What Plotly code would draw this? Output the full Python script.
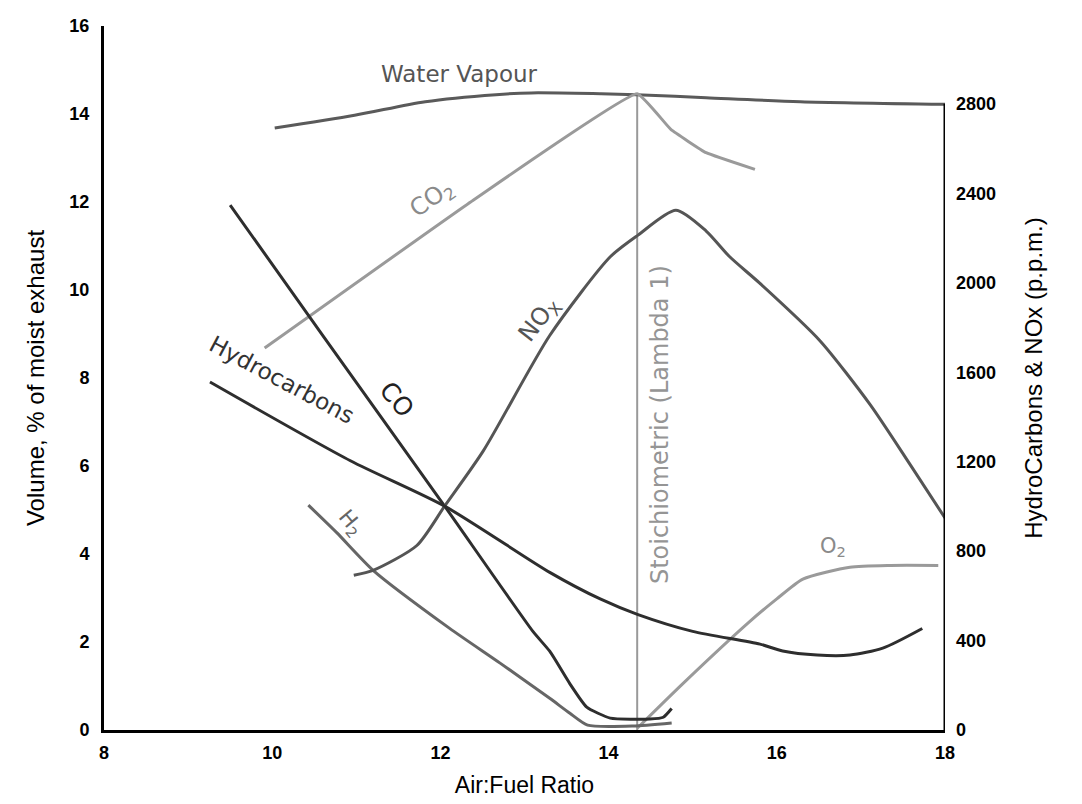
import plotly.graph_objects as go

# ---- data (x = air:fuel ratio) ----
wv_x = [10.03, 10.98, 11.82, 12.66, 13.08, 13.91, 14.33, 15.16, 16.28, 18.0]
wv_y = [13.68, 13.97, 14.28, 14.44, 14.48, 14.46, 14.44, 14.37, 14.28, 14.22]

co2_x = [9.91, 12.39, 14.34, 14.74, 15.16, 15.74]
co2_y = [8.68, 12.04, 14.46, 13.65, 13.12, 12.74]

co_x = [9.50, 10.60, 12.05, 13.10, 13.30, 13.54, 13.74, 14.02, 14.49, 14.65, 14.75]
co_y = [11.93, 8.97, 5.09, 2.24, 1.79, 1.05, 0.52, 0.27, 0.25, 0.29, 0.49]

h2_x = [10.43, 10.77, 11.20, 12.11, 12.71, 13.30, 13.54, 13.75, 14.29, 14.75]
h2_y = [5.11, 4.48, 3.63, 2.31, 1.52, 0.72, 0.38, 0.11, 0.09, 0.16]

o2_x = [14.34, 14.88, 15.68, 16.00, 16.31, 16.87, 17.35, 17.92]
o2_y = [0.04, 1.05, 2.47, 2.98, 3.43, 3.70, 3.74, 3.74]

hc_x = [9.26, 10.93, 12.05, 13.30, 13.90, 14.35, 15.00, 15.80, 16.07, 16.48, 16.87, 17.26, 17.73]
hc_ppm = [1556, 1204, 1001, 705, 586, 516, 441, 384, 353, 335, 335, 366, 454]

nox_x = [10.97, 11.20, 11.72, 12.05, 12.51, 13.30, 14.02, 14.35, 14.80, 15.16, 15.44, 15.80, 16.51, 17.11, 17.58, 18.0]
nox_ppm = [692, 714, 825, 1001, 1248, 1764, 2116, 2213, 2324, 2231, 2116, 1997, 1742, 1455, 1190, 948]

stoich_x = [14.34, 14.34]
stoich_y = [0, 14.44]

x_ticks = [8, 10, 12, 14, 16, 18]
left_ticks = [0, 2, 4, 6, 8, 10, 12, 14, 16]
right_ticks = [0, 400, 800, 1200, 1600, 2000, 2400, 2800]

fig = go.Figure()

def add(x, y, color, width=3, yaxis="y", shape="linear", smooth=None):
    line = dict(color=color, width=width, shape=shape)
    if smooth is not None:
        line["smoothing"] = smooth
    fig.add_trace(go.Scatter(x=x, y=y, mode="lines", line=line, yaxis=yaxis,
                             showlegend=False, hoverinfo="skip"))

add(stoich_x, stoich_y, "#999999", width=2)
add(wv_x, wv_y, "#5a5a5a", shape="spline", smooth=0.8)
add(co2_x, co2_y, "#9a9a9a", shape="spline", smooth=0.3)
add(o2_x, o2_y, "#9a9a9a", shape="spline", smooth=0.6)
add(h2_x, h2_y, "#666666", shape="spline", smooth=0.6)
add(nox_x, nox_ppm, "#555555", yaxis="y2", shape="spline", smooth=0.7)
add(hc_x, hc_ppm, "#2e2e2e", yaxis="y2", shape="spline", smooth=0.7)
add(co_x, co_y, "#2e2e2e", shape="spline", smooth=0.5)

lbl_font = "DejaVu Sans"
labels = [
    ("Water Vapour", 12.23, 14.91, 0, "#555555", 23),
    ("CO<sub>2</sub>", 11.90, 12.06, -35, "#8a8a8a", 24),
    ("NO<sub>X</sub>", 13.18, 9.30, -52, "#555555", 24),
    ("CO", 11.48, 7.51, 50, "#222222", 25),
    ("Hydrocarbons", 10.12, 7.96, 28, "#333333", 23),
    ("H<sub>2</sub>", 10.93, 4.71, 50, "#666666", 21),
    ("O<sub>2</sub>", 16.67, 4.15, 0, "#8a8a8a", 21),
    ("Stoichiometric (Lambda 1)", 14.61, 6.95, -90, "#959595", 24),
]
anns = []
for t, x, y, a, c, s in labels:
    anns.append(dict(text=t, x=x, y=y, xref="x", yref="y", showarrow=False,
                     textangle=a, font=dict(family=lbl_font, size=s, color=c)))

tickfont = dict(family="Liberation Sans", size=18, color="black", weight="bold")
titlefont = dict(family="Liberation Sans", size=24, color="black")

# page body adds an 8px offset; plot area targets x 104..945, y 16..730 in the window
fig.update_layout(
    width=1074, height=796,
    margin=dict(l=96, r=137, t=8, b=74),
    paper_bgcolor="white", plot_bgcolor="white",
    annotations=anns,
    xaxis=dict(range=[8, 18], tickvals=x_ticks, showgrid=False, zeroline=False,
               showline=True, linecolor="black", linewidth=3, ticks="",
               tickfont=tickfont, ticklabelstandoff=4,
               title=dict(text="Air:Fuel Ratio", font=dict(family="Liberation Sans", size=23, color="black"),
                          standoff=16)),
    yaxis=dict(range=[0, 16], tickvals=left_ticks, showgrid=False, zeroline=False,
               showline=True, linecolor="black", linewidth=3, ticks="",
               tickfont=tickfont, ticklabelstandoff=8, ticklabeloverflow="allow",
               title=dict(text="Volume, % of moist exhaust", font=titlefont, standoff=18)),
    yaxis2=dict(range=[0, 3148], tickvals=right_ticks, overlaying="y", side="right",
                showgrid=False, zeroline=False, showline=False, ticks="",
                tickfont=tickfont, ticklabelstandoff=10, ticklabeloverflow="allow",
                title=dict(text="HydroCarbons &amp; NOx (p.p.m.)", font=titlefont, standoff=30)),
    shapes=[dict(type="line", xref="x", yref="y2", x0=18, x1=18, y0=0, y1=2800,
                 line=dict(color="black", width=3))],
)

fig.write_html("out.html")
